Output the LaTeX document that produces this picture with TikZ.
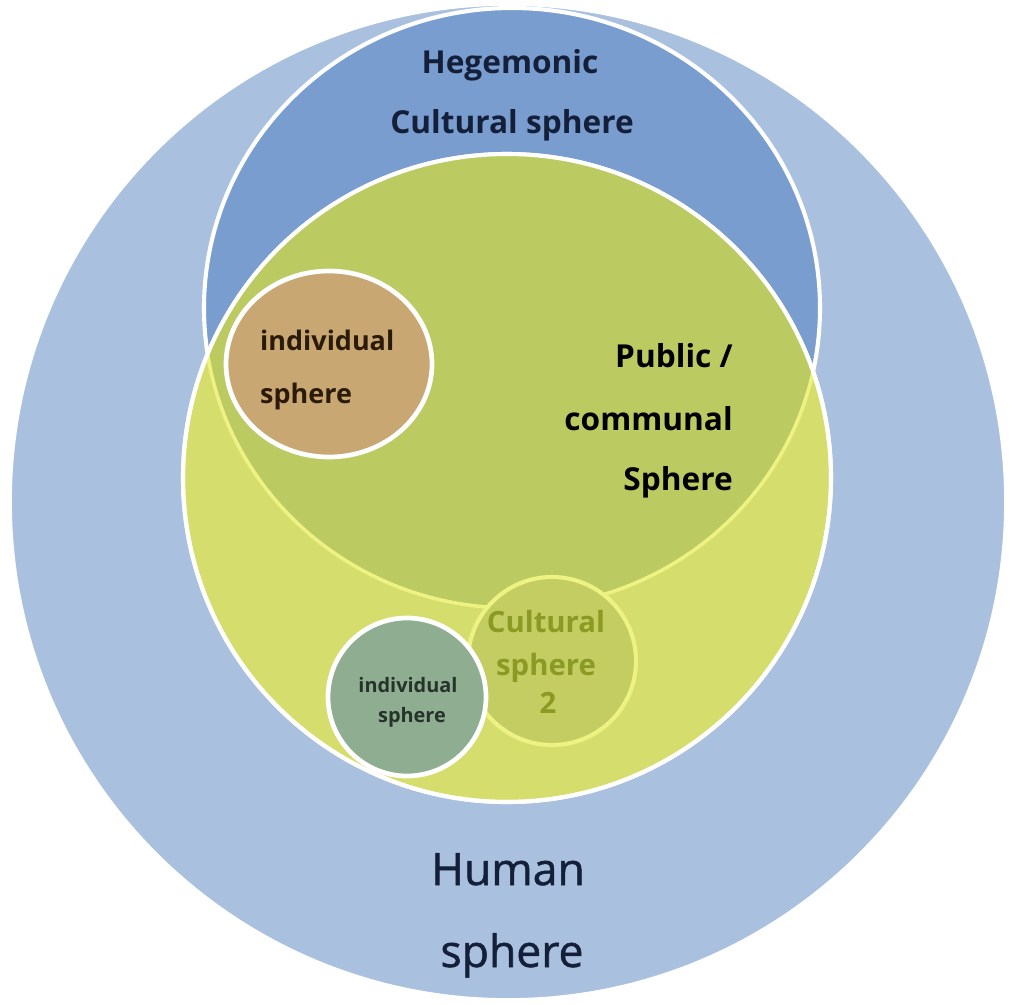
\documentclass[tikz,border=0pt]{standalone}
\usepackage{fontspec}
\setmainfont{Open Sans}
\newfontfamily\humanfont{Open Sans}[FakeBold=1.2]
\definecolor{humanblue}{HTML}{A9C1DF}
\definecolor{hegblue}{HTML}{7A9DD0}
\definecolor{pubyellow}{HTML}{D5DE6C}
\definecolor{overlap}{HTML}{BCCA62}
\definecolor{lineyellow}{HTML}{EEF283}
\definecolor{cult}{HTML}{C3CD62}
\definecolor{brownfill}{HTML}{C9A772}
\definecolor{greygreen}{HTML}{8FAE91}
\definecolor{navytext}{HTML}{14203A}
\definecolor{olivetext}{HTML}{8A9A22}
\definecolor{browntext}{HTML}{2A1A08}
\definecolor{smalltext}{HTML}{26332B}
\tikzset{
  sphereborder/.style={draw=white, line width=3.5pt},
  lbl/.style={inner sep=0pt, anchor=base},
}
\begin{document}
\begin{tikzpicture}[x=0.03cm, y=-0.03cm]
\useasboundingbox (0,0) rectangle (1009,1004);
\fill[white] (0,0) rectangle (1009,1004);
% human sphere
\path[fill=humanblue, draw=white, line width=1.5pt] (508,502) circle [radius=497];
% hegemonic
\path[fill=hegblue, sphereborder] (512,308) ellipse [x radius=308, y radius=300];
% public sphere
\path[fill=pubyellow, sphereborder] (507,478) circle [radius=324];
\begin{scope}
  \clip (507,478) circle [radius=324];
  \fill[overlap] (512,308) ellipse [x radius=308, y radius=300];
  \draw[lineyellow, line width=3pt] (512,308) ellipse [x radius=308, y radius=300];
\end{scope}
\draw[white, line width=3.5pt] (507,478) circle [radius=324];
% cultural sphere 2
\path[fill=cult, draw=lineyellow, line width=3.5pt] (552,661) circle [radius=84];
% small individual sphere
\path[fill=greygreen, draw=white, line width=4pt] (407,697) circle [radius=79];
% top individual sphere
\path[fill=brownfill, draw=white, line width=4pt] (329,364) ellipse [x radius=103, y radius=93];

% labels
\node[lbl, text=navytext, font=\bfseries\fontsize{27}{30}\selectfont] (heg1) at (510,73) {Hegemonic};
\node[lbl, text=navytext, font=\bfseries\fontsize{27}{30}\selectfont] (heg2) at (512,133) {Cultural sphere};
\node[lbl, anchor=base west, text=browntext, font=\bfseries\fontsize{23}{26}\selectfont] (ind1) at (260,350) {individual};
\node[lbl, anchor=base west, text=browntext, font=\bfseries\fontsize{23}{26}\selectfont] (ind2) at (260,403) {sphere};
\node[lbl, anchor=base east, text=black, font=\bfseries\fontsize{27}{30}\selectfont] (pub1) at (733,367) {Public /};
\node[lbl, anchor=base east, text=black, font=\bfseries\fontsize{27}{30}\selectfont] (pub2) at (733,430) {communal};
\node[lbl, anchor=base east, text=black, font=\bfseries\fontsize{27}{30}\selectfont] (pub3) at (733,490) {Sphere};
\node[lbl, text=olivetext, font=\bfseries\fontsize{25}{28}\selectfont] (cs1) at (546,632) {Cultural};
\node[lbl, text=olivetext, font=\bfseries\fontsize{25}{28}\selectfont] (cs2) at (546,675) {sphere};
\node[lbl, text=olivetext, font=\bfseries\fontsize{25}{28}\selectfont] (cs3) at (548,713) {2};
\node[lbl, text=smalltext, font=\bfseries\fontsize{17}{20}\selectfont] (si1) at (408,692) {individual};
\node[lbl, text=smalltext, font=\bfseries\fontsize{17}{20}\selectfont] (si2) at (412,722) {sphere};
\node[lbl, text=navytext, font=\humanfont\fontsize{38}{44}\selectfont] (hum1) at (508,885) {Human};
\node[lbl, text=navytext, font=\humanfont\fontsize{38}{44}\selectfont] (hum2) at (512,967) {sphere};
\end{tikzpicture}
\end{document}
